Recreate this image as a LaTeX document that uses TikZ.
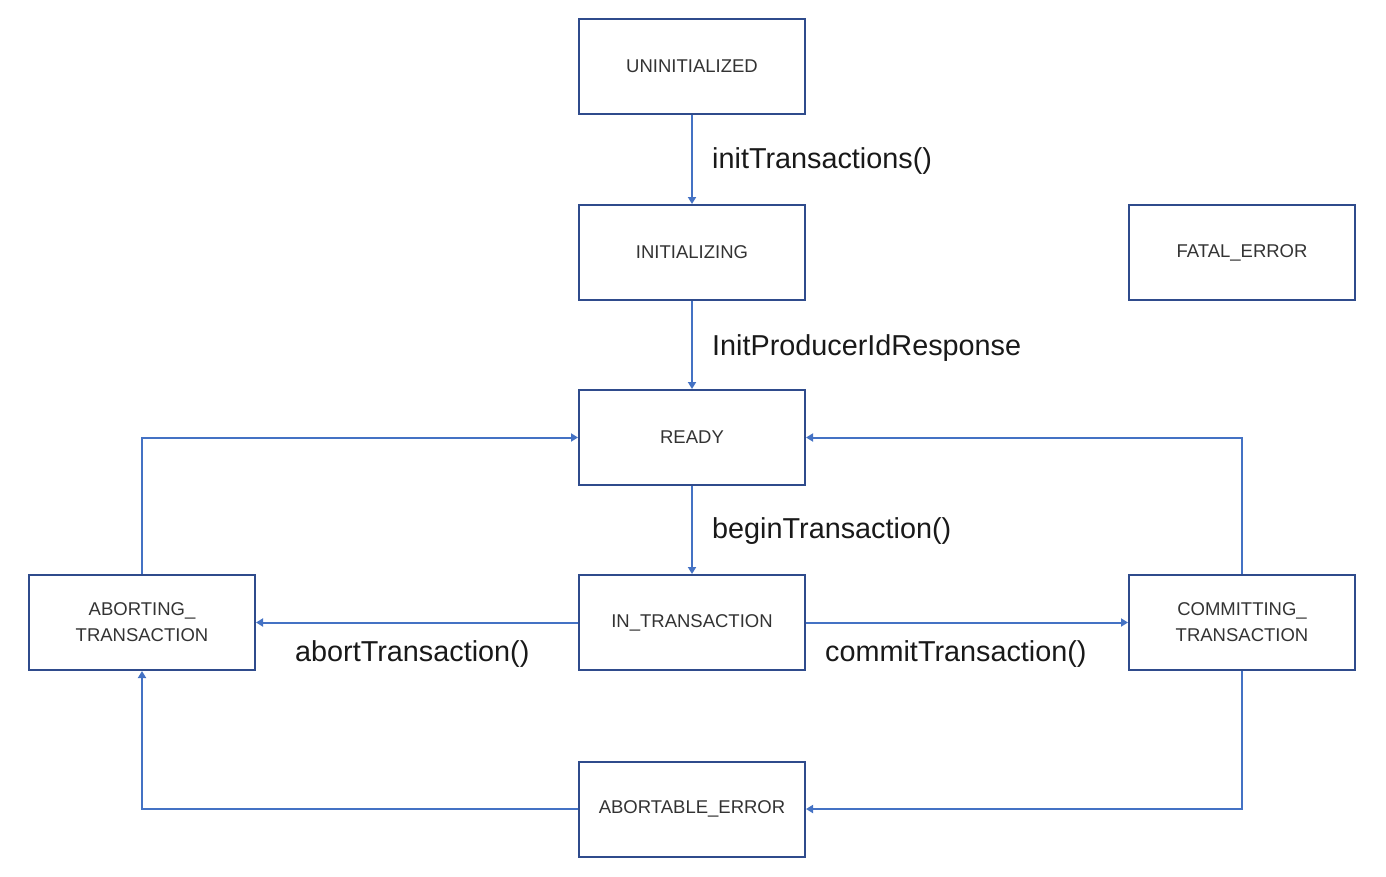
\documentclass[tikz,border=0pt]{standalone}
\usepackage{fontspec}
\setmainfont{Liberation Sans}
\usetikzlibrary{arrows.meta}
\definecolor{boxc}{HTML}{2F4B8C}
\definecolor{arrc}{HTML}{4472C4}
\definecolor{txtc}{HTML}{333333}
\begin{document}
\begin{tikzpicture}[x=1pt,y=-1pt,
  state/.style={draw=boxc,line width=2pt,minimum width=226pt,minimum height=95pt,inner sep=0pt,align=center,font=\fontsize{18.5}{26}\selectfont,text=txtc},
  conn/.style={draw=arrc,line width=2pt,-{Triangle[width=8pt,length=7pt]}},
  lbl/.style={anchor=west,font=\fontsize{28.8}{32}\selectfont,text=black!90,inner sep=0pt}]
\useasboundingbox (0,0) rectangle (1386,876);
\node[state] (uninit) at (692,66) {UNINITIALIZED};
\node[state] (initing) at (692,252.5) {INITIALIZING};
\node[state] (fatal) at (1242,252.5) {FATAL\_ERROR};
\node[state] (ready) at (692,437.5) {READY};
\node[state] (intx) at (692,622.5) {IN\_TRANSACTION};
\node[state] (abort) at (142,622.5) {ABORTING\_\\TRANSACTION};
\node[state] (commit) at (1242,622.5) {COMMITTING\_\\TRANSACTION};
\node[state] (aerr) at (692,809) {ABORTABLE\_ERROR};
\draw[conn] (uninit) -- (initing);
\draw[conn] (initing) -- (ready);
\draw[conn] (ready) -- (intx);
\draw[conn] (intx) -- (abort);
\draw[conn] (intx) -- (commit);
\draw[conn] (abort.north) |- (ready.west);
\draw[conn] (commit.north) |- (ready.east);
\draw[conn] (commit.south) |- (aerr.east);
\draw[conn] (aerr.west) -| (abort.south);
\node[lbl] (l1) at (712,161) {initTransactions()};
\node[lbl] (l2) at (712,348) {InitProducerIdResponse};
\node[lbl] (l3) at (712,531) {beginTransaction()};
\node[lbl] (l4) at (295,654) {abortTransaction()};
\node[lbl] (l5) at (825,654) {commitTransaction()};
\end{tikzpicture}
\end{document}
